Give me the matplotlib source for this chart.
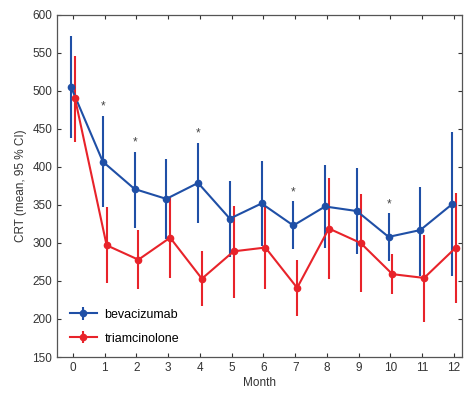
import matplotlib
matplotlib.use("Agg")
import matplotlib.pyplot as plt

plt.rcParams['font.family'] = ['Liberation Sans', 'DejaVu Sans']

months = list(range(13))
bev_mean = [505, 407, 371, 358, 379, 332, 352, 323, 348, 342, 308, 317, 351]
bev_hi = [572, 467, 420, 410, 432, 382, 408, 355, 403, 398, 339, 374, 446]
bev_lo = [438, 347, 320, 305, 326, 281, 296, 292, 294, 286, 276, 257, 256]
tri_mean = [491, 297, 278, 307, 253, 289, 294, 241, 319, 300, 259, 254, 294]
tri_hi = [546, 347, 317, 360, 289, 349, 349, 277, 385, 364, 286, 311, 366]
tri_lo = [433, 247, 240, 254, 217, 228, 239, 204, 252, 235, 233, 196, 221]
sig_months = [1, 2, 4, 7, 10]

blue = '#1f4fa6'
red = '#e8232a'

fig = plt.figure(figsize=(4.68, 3.93), dpi=100)
ax = fig.add_axes([0.122, 0.0916, 0.865, 0.8704])

def plot_series(mean, lo, hi, off, color, label):
    x = [m + off for m in months]
    yerr = [[m - l for m, l in zip(mean, lo)], [h - m for m, h in zip(mean, hi)]]
    ax.errorbar(x, mean, yerr=yerr, color=color, lw=1.5, elinewidth=1.5,
                marker='o', ms=4.5, capsize=0, label=label)

plot_series(bev_mean, bev_lo, bev_hi, -0.06, blue, 'bevacizumab')
plot_series(tri_mean, tri_lo, tri_hi, 0.06, red, 'triamcinolone')

for m in sig_months:
    ax.text(m - 0.06, bev_hi[m] + 12, '*', ha='center', va='center',
            fontsize=8.5, color='#444444')

ax.set_xlim(-0.5, 12.25)
ax.set_ylim(150, 600)
ax.set_xticks(months)
ax.set_yticks(range(150, 601, 50))
ax.tick_params(direction='in', top=True, right=True, labelsize=8.5,
               colors='#333333', length=3, width=0.8)
for s in ax.spines.values():
    s.set_color('#555555')
    s.set_linewidth(0.9)
ax.set_xlabel('Month', fontsize=8.5, color='#333333', labelpad=2)
ax.set_ylabel('CRT (mean, 95 % CI)', fontsize=8.5, color='#333333')
ax.legend(loc='lower left', frameon=False, fontsize=9, handlelength=2.2,
          handletextpad=0.6, borderaxespad=0.6, labelspacing=0.95)

fig.savefig('out.png', dpi=100)
